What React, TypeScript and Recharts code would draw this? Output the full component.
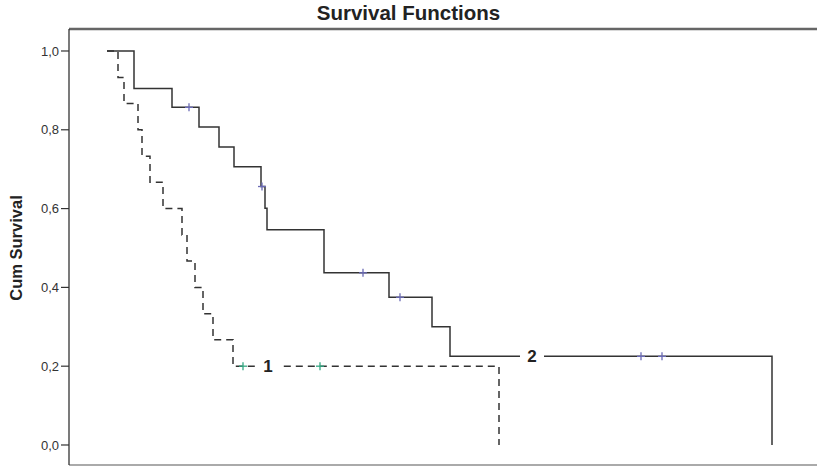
import React from 'react';
import { ComposedChart, Line, Scatter, XAxis, YAxis, ReferenceLine } from 'recharts';

// Group 2 (solid): step points (time, cumulative survival)
const group2Steps = [
  { t: 0, s: 1.0 },
  { t: 2.7, s: 0.905 },
  { t: 6.5, s: 0.857 },
  { t: 9.2, s: 0.807 },
  { t: 11.2, s: 0.756 },
  { t: 12.7, s: 0.706 },
  { t: 15.4, s: 0.656 },
  { t: 15.8, s: 0.601 },
  { t: 16.0, s: 0.546 },
  { t: 21.7, s: 0.437 },
  { t: 28.2, s: 0.375 },
  { t: 32.5, s: 0.3 },
  { t: 34.3, s: 0.225 },
  { t: 66.5, s: 0.0 },
];
const group2Censored = [
  { t: 8.2, s: 0.857 },
  { t: 15.5, s: 0.656 },
  { t: 25.6, s: 0.437 },
  { t: 29.3, s: 0.375 },
  { t: 53.4, s: 0.225 },
  { t: 55.5, s: 0.225 },
];

// Group 1 (dashed)
const group1Steps = [
  { t: 0, s: 1.0 },
  { t: 1.1, s: 0.933 },
  { t: 1.7, s: 0.867 },
  { t: 3.1, s: 0.8 },
  { t: 3.5, s: 0.733 },
  { t: 4.3, s: 0.667 },
  { t: 5.6, s: 0.6 },
  { t: 7.5, s: 0.533 },
  { t: 8.0, s: 0.467 },
  { t: 8.8, s: 0.4 },
  { t: 9.6, s: 0.333 },
  { t: 10.6, s: 0.267 },
  { t: 12.6, s: 0.2 },
  { t: 39.2, s: 0.0 },
];
const group1Censored = [
  { t: 13.6, s: 0.2 },
  { t: 21.3, s: 0.2 },
];

const curveLabels = [
  { t: 16.1, s: 0.2, name: '1' },
  { t: 42.5, s: 0.225, name: '2' },
];

const yTicks = [0, 0.2, 0.4, 0.6, 0.8, 1.0];
const yDomain = [-0.0508, 1.0558];
const xDomain = [-3.8, 71];

const FONT = 'Arial, "Liberation Sans", Helvetica, sans-serif';

const makeCross = (color: string) => (props: any) => {
  const { cx, cy } = props;
  if (cx == null || cy == null) return <g />;
  return (
    <g>
      <line x1={cx - 4} x2={cx + 4} y1={cy} y2={cy} stroke={color} strokeWidth={1.3} />
      <line x1={cx} x2={cx} y1={cy - 4} y2={cy + 4} stroke={color} strokeWidth={1.3} />
    </g>
  );
};

const LabelShape = (props: any) => {
  const { cx, cy, payload } = props;
  if (cx == null || cy == null) return <g />;
  return (
    <g>
      <rect x={cx - 12} y={cy - 8} width={24} height={16} fill="#fff" />
      <text
        x={cx}
        y={cy + 6}
        textAnchor="middle"
        fontFamily={FONT}
        fontWeight="bold"
        fontSize={17}
        fill="#222"
      >
        {payload.name}
      </text>
    </g>
  );
};

export default function App() {
  return (
    <div style={{ position: 'absolute', left: 0, top: 0, width: 817, height: 467, background: '#fff', fontFamily: FONT }}>
      <div
        style={{
          position: 'absolute',
          left: 0,
          width: 817,
          top: 1,
          textAlign: 'center',
          fontWeight: 'bold',
          fontSize: 20.5,
          lineHeight: '24px',
          color: '#222',
          fontFamily: FONT,
          paddingLeft: 0,
        }}
      >
        Survival Functions
      </div>
      <div
        style={{
          position: 'absolute',
          left: 15.5,
          top: 247.5,
          transform: 'translate(-50%, -50%) rotate(-90deg)',
          fontWeight: 'bold',
          fontSize: 16.5,
          color: '#222',
          whiteSpace: 'nowrap',
          fontFamily: FONT,
        }}
      >
        Cum Survival
      </div>
      <div style={{ position: 'absolute', left: 0, top: 0 }}>
        <ComposedChart width={817} height={467} margin={{ top: 29, right: 0, bottom: 2, left: 0 }}>
          <XAxis type="number" dataKey="t" domain={xDomain} allowDataOverflow hide />
          <YAxis
            type="number"
            dataKey="s"
            domain={yDomain}
            ticks={yTicks}
            allowDataOverflow
            width={69}
            tickSize={8}
            tickMargin={2}
            tickFormatter={(v: number) => v.toFixed(1).replace('.', ',')}
            tick={{ fontSize: 13, fill: '#333', fontFamily: FONT }}
            axisLine={{ stroke: '#333', strokeWidth: 1.3 }}
            tickLine={{ stroke: '#333', strokeWidth: 1.2 }}
          />
          <ReferenceLine y={yDomain[1]} stroke="#666" strokeWidth={2.5} ifOverflow="visible" />
          <ReferenceLine y={yDomain[0]} stroke="#aaa" strokeWidth={2} ifOverflow="visible" />
          <Line
            data={group1Steps}
            dataKey="s"
            type="stepAfter"
            stroke="#333"
            strokeWidth={1.5}
            strokeDasharray="7 5"
            dot={false}
            activeDot={false}
            isAnimationActive={false}
          />
          <Line
            data={group2Steps}
            dataKey="s"
            type="stepAfter"
            stroke="#333"
            strokeWidth={1.5}
            dot={false}
            activeDot={false}
            isAnimationActive={false}
          />
          <Scatter data={group2Censored} dataKey="s" shape={makeCross('#6b6bb5')} isAnimationActive={false} />
          <Scatter data={group1Censored} dataKey="s" shape={makeCross('#33a883')} isAnimationActive={false} />
          <Scatter data={curveLabels} dataKey="s" shape={LabelShape} isAnimationActive={false} />
        </ComposedChart>
      </div>
    </div>
  );
}
